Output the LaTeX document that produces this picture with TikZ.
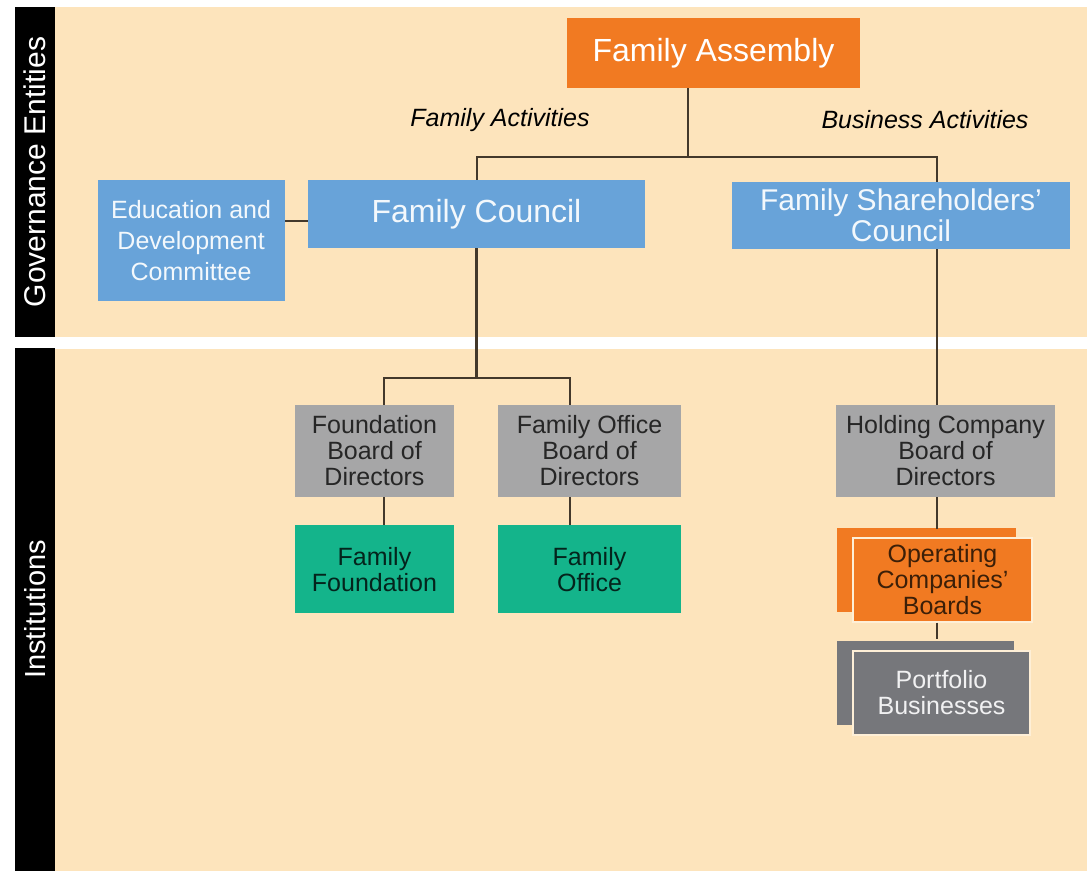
\documentclass[tikz,border=0pt]{standalone}
\usepackage{fontspec}
\setmainfont{Liberation Sans}
\usepackage{xcolor}
\definecolor{peach}{HTML}{FDE4BC}
\definecolor{borange}{HTML}{F17A22}
\definecolor{bblue}{HTML}{68A3D9}
\definecolor{bgray}{HTML}{A6A6A7}
\definecolor{bgreen}{HTML}{14B48B}
\definecolor{bdark}{HTML}{76777B}
\definecolor{lineclr}{HTML}{43382B}
\usetikzlibrary{positioning, calc, shadows}
\tikzstyle{Box} = [
rectangle,
inner sep=0pt,
align=center]
\tikzstyle{BoxOrange} = [Box, fill=borange, text=white]
\tikzstyle{BoxBlue} = [Box, fill=bblue, text=white!92!bblue]
\tikzstyle{BoxGray} = [Box, fill=bgray, text=black!85]
\tikzstyle{BoxGreen} = [Box, fill=bgreen, text=black!80!bgreen]
\tikzstyle{BoxStack} = [
Box,
fill=borange,
text=black!75!borange,
draw=peach!60!white,
line width=1.2pt,
copy shadow={shadow xshift=-16pt, shadow yshift=10pt, fill=borange, draw=none}]
\tikzstyle{BoxStackDark} = [
Box,
fill=bdark,
text=white!90!bdark,
draw=peach!60!white,
line width=1.2pt,
copy shadow={shadow xshift=-16pt, shadow yshift=10pt, fill=bdark, draw=none}]
\tikzstyle{SideBar} = [
rectangle,
fill=black,
text=white,
rotate=90,
minimum height=40pt,
inner sep=0pt,
font=\fontsize{30}{32}\selectfont]
\tikzstyle{Link} = [line width=2.8pt, lineclr]
\tikzstyle{Small} = [font=\fontsize{25}{26}\selectfont]

\begin{document}
\begin{tikzpicture}[x=1pt, y=-1pt]
    \useasboundingbox (0,0) rectangle (1087,871);
    \fill[white] (0,0) rectangle (1087,871);
    \fill[peach] (55,7) rectangle (1087,337);
    \fill[peach] (55,349) rectangle (1087,871);
    \node[SideBar, minimum width=330pt] (gov) at (35,172) {Governance Entities};
    \node[SideBar, minimum width=523pt, font=\fontsize{29}{30}\selectfont] (inst) at (35,609.5) {Institutions};

    % governance
    \node[BoxOrange, minimum width=293pt, minimum height=70pt, font=\fontsize{32}{36}\selectfont] (fa) at (713.5,53) {Family Assembly};
    \node[font=\fontsize{25}{26}\selectfont\itshape] (factv) at (500,120) {Family Activities};
    \node[font=\fontsize{25}{26}\selectfont\itshape] (bactv) at (925,120) {Business Activities};
    \node[BoxBlue, minimum width=337pt, minimum height=68pt, font=\fontsize{32}{36}\selectfont] (fc) at (476.5,214) {Family Council};
    \node[BoxBlue, minimum width=187pt, minimum height=121pt, font=\fontsize{25}{31}\selectfont, anchor=north east] (edc) at ([xshift=-23pt]fc.north west) {Education and\\Development\\Committee};
    \node[BoxBlue, minimum width=338pt, minimum height=67pt, font=\fontsize{30}{31}\selectfont] (fsc) at (901,215.5) {Family Shareholders'\\Council};

    % institutions
    \node[BoxGray, Small, minimum width=159pt, minimum height=92pt] (fbd) at (374.5,451) {Foundation\\Board of\\Directors};
    \node[BoxGray, Small, minimum width=183pt, minimum height=92pt] (fobd) at (589.5,451) {Family Office\\Board of\\Directors};
    \node[BoxGreen, Small, minimum width=159pt, minimum height=88pt, below=28pt of fbd] (ff) {Family\\Foundation};
    \node[BoxGreen, Small, minimum width=183pt, minimum height=88pt, below=28pt of fobd] (fo) {Family\\Office};
    \node[BoxGray, Small, minimum width=219pt, minimum height=92pt] (hcb) at (945.5,451) {Holding Company\\Board of\\Directors};
    \node[BoxStack, Small, minimum width=179pt, minimum height=84pt] (ocb) at (942.5,580) {Operating\\Companies'\\Boards};
    \node[BoxStackDark, Small, minimum width=177pt, minimum height=84pt] (pb) at (941.5,693) {Portfolio\\Businesses};

    \coordinate (fork) at (688,157);
    \coordinate (busL) at (477,157);
    \coordinate (busR) at (937,157);
    \coordinate (splitL) at (384,378);
    \coordinate (splitR) at (570,378);

    \draw[Link] (fa.south -| fork) -- (fork);
    \draw[Link] (fc.north -| busL) |- (fork) -| (fsc.north -| busR);
    \draw[Link] ([yshift=-7pt]fc.west) -- ([yshift=-7pt]fc.west -| edc.east);
    \draw[Link] (fc.south) -- (fc.south |- splitL);
    \draw[Link] (fbd.north -| splitL) |- (splitR) -- (fobd.north -| splitR);
    \draw[Link] (fbd.south -| splitL) -- (ff.north -| splitL);
    \draw[Link] (fobd.south -| splitR) -- (fo.north -| splitR);
    \draw[Link] (fsc.south -| busR) -- (hcb.north -| busR);
    \draw[Link] (hcb.south -| busR) -- ([yshift=8pt]ocb.north -| busR);
    \draw[Link] (ocb.south -| busR) -- ([yshift=11pt]pb.north -| busR);
\end{tikzpicture}
\end{document}
